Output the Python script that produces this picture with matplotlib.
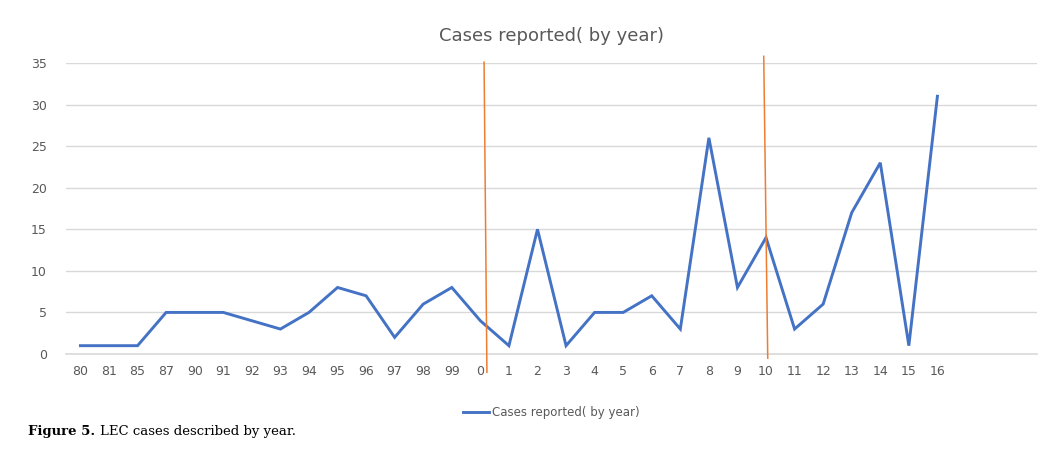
import matplotlib
matplotlib.use("Agg")
import matplotlib.pyplot as plt
from matplotlib.lines import Line2D

years = ["80", "81", "85", "87", "90", "91", "92", "93", "94", "95", "96", "97", "98", "99",
         "0", "1", "2", "3", "4", "5", "6", "7", "8", "9", "10", "11", "12", "13", "14", "15", "16"]
cases = [1, 1, 1, 5, 5, 5, 4, 3, 5, 8, 7, 2, 6, 8,
         4, 1, 15, 1, 5, 5, 7, 3, 26, 8, 14, 3, 6, 17, 23, 1, 31]
empty_slots = 3
yticks = [0, 5, 10, 15, 20, 25, 30, 35]
# divider lines (slightly tilted, hand drawn): (x_top, y_top, x_bottom, y_bottom) in data units
dividers = [(14.13, 35.1, 14.23, -2.2), (23.92, 35.8, 24.06, -0.5)]

fig = plt.figure(figsize=(10.5, 4.49), dpi=100)
ax = fig.add_axes([0.063, 0.2116, 0.925, 0.6481])

x = list(range(len(years)))
ax.plot(x, cases, color="#4472C4", lw=2.1, solid_joinstyle="miter", zorder=3,
        label="Cases reported( by year)")

for xt, yt, xb, yb in dividers:
    ax.plot([xt, xb], [yt, yb], color="#ED7D31", lw=1.1, clip_on=False, zorder=4)

ax.set_xlim(-0.5, len(years) - 1 + empty_slots + 0.5)
ax.set_ylim(0, 35)
ax.set_xticks(x)
ax.set_xticklabels(years)
ax.set_yticks(yticks)
ax.tick_params(axis="both", length=0, labelsize=9, colors="#595959")
ax.tick_params(axis="x", pad=8)
ax.tick_params(axis="y", pad=14)
for s in ax.spines.values():
    s.set_visible(False)
ax.grid(axis="y", color="#d9d9d9", lw=1)
ax.axhline(0, color="#d9d9d9", lw=1.2, clip_on=False, zorder=1)
ax.set_axisbelow(True)

fig.text(0.525, 0.92, "Cases reported( by year)", ha="center", va="center",
         fontsize=13, color="#595959")

handle = Line2D([0], [0], color="#4472C4", lw=2.1)
fig.legend([handle], ["Cases reported( by year)"], loc="center",
           bbox_to_anchor=(0.525, 0.082), frameon=False, fontsize=8.5,
           labelcolor="#595959", handlelength=2.2, handletextpad=0.2)

fig.text(0.027, 0.04, "Figure 5.", ha="left", va="center", fontsize=9.5,
         fontweight="bold", family="DejaVu Serif")
fig.text(0.095, 0.04, "LEC cases described by year.", ha="left", va="center",
         fontsize=9.5, family="DejaVu Serif")

fig.savefig("out.png", dpi=100)
